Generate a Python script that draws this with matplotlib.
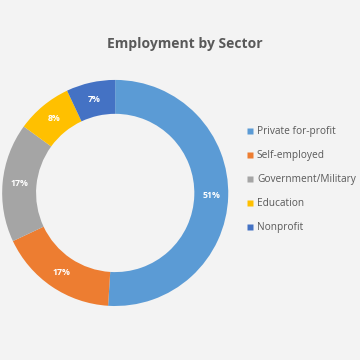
import matplotlib.pyplot as plt
from matplotlib.lines import Line2D

plt.rcParams['font.family'] = ['Open Sans', 'DejaVu Sans']

sectors = ["Private for-profit", "Self-employed", "Government/Military", "Education", "Nonprofit"]
shares = [51, 17, 17, 8, 7]
colors = ["#5B9BD5", "#ED7D31", "#A5A5A5", "#FFC000", "#4472C4"]

fig = plt.figure(figsize=(3.6, 3.6), dpi=100, facecolor="#f3f3f3")
ax = fig.add_axes([0.006, 0.15, 0.628, 0.628])
ax.set_facecolor("#f3f3f3")

wedges, texts = ax.pie(
    shares, colors=colors, startangle=90, counterclock=False,
    labels=[f"{s}%" for s in shares], labeldistance=0.85,
    wedgeprops=dict(width=0.3, edgecolor="none"),
    textprops=dict(color="white", fontsize=6.3, fontweight="bold", ha="center", va="center"),
)
ax.set_xlim(-1, 1)
ax.set_ylim(-1, 1)
ax.set_aspect("equal")

fig.text(0.514, 0.878, "Employment by Sector", ha="center", va="center",
         fontsize=10, fontweight="bold", color="#595959")

handles = [Line2D([], [], marker="s", linestyle="none", markersize=5,
                  markerfacecolor=c, markeredgecolor="none") for c in colors]
fig.legend(handles, sectors, loc="upper left", bbox_to_anchor=(0.67, 0.663),
           frameon=False, fontsize=7.3, labelcolor="#595959", labelspacing=1.28,
           handlelength=0.7, handletextpad=0.35, borderpad=0)

plt.savefig("out.png", dpi=100, facecolor=fig.get_facecolor())
